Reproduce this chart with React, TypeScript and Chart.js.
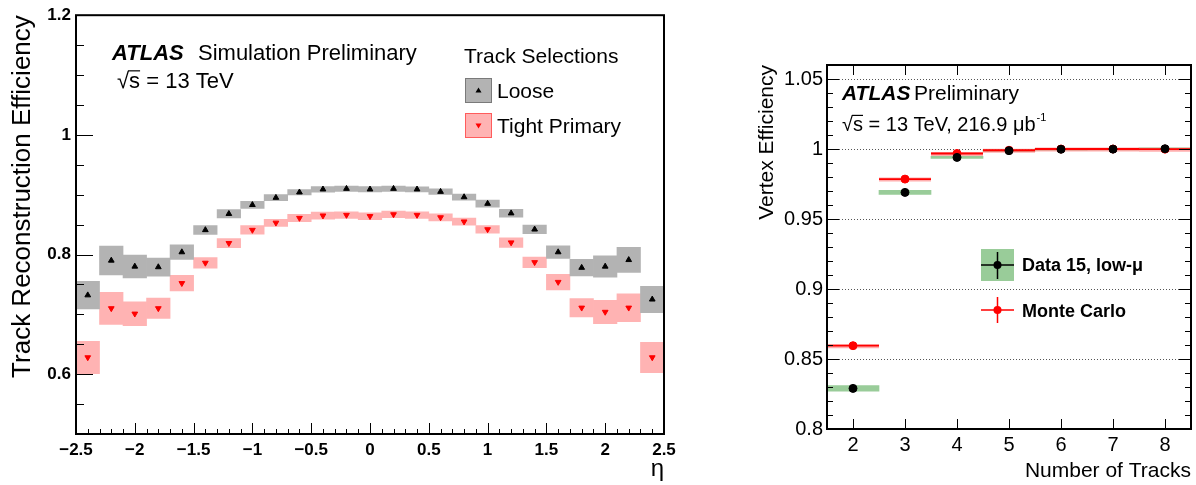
import React, { useEffect, useRef } from "react";
import { Chart, registerables } from "chart.js";

Chart.register(...registerables);

const FONT = "'Liberation Sans', Arial, Helvetica, sans-serif";

// ---------- Left panel: track reconstruction efficiency vs eta ----------
const ETA_BINS = [-2.4, -2.2, -2.0, -1.8, -1.6, -1.4, -1.2, -1.0, -0.8, -0.6, -0.4, -0.2, 0.0, 0.2, 0.4, 0.6, 0.8, 1.0, 1.2, 1.4, 1.6, 1.8, 2.0, 2.2, 2.4];
const LOOSE_EFF = [0.732, 0.790, 0.780, 0.779, 0.804, 0.841, 0.868, 0.883, 0.895, 0.904, 0.909, 0.910, 0.909, 0.910, 0.909, 0.905, 0.896, 0.885, 0.869, 0.842, 0.804, 0.778, 0.780, 0.791, 0.725];
const LOOSE_ERR = [0.023, 0.024, 0.019, 0.015, 0.012, 0.0074, 0.0069, 0.006, 0.0052, 0.0045, 0.0047, 0.0045, 0.0045, 0.0044, 0.0042, 0.0047, 0.005, 0.0058, 0.0066, 0.0072, 0.0105, 0.0138, 0.018, 0.021, 0.022];
const TIGHT_EFF = [0.628, 0.710, 0.701, 0.710, 0.752, 0.786, 0.819, 0.841, 0.853, 0.861, 0.865, 0.866, 0.864, 0.867, 0.866, 0.862, 0.855, 0.842, 0.820, 0.787, 0.754, 0.711, 0.704, 0.711, 0.628];
const TIGHT_ERR = [0.027, 0.027, 0.020, 0.017, 0.013, 0.0088, 0.0075, 0.0072, 0.006, 0.006, 0.0058, 0.0055, 0.0057, 0.0055, 0.0055, 0.0058, 0.006, 0.0063, 0.008, 0.0088, 0.013, 0.0154, 0.0196, 0.0234, 0.0253];
const ETA_TICKS = [-2.5, -2, -1.5, -1, -0.5, 0, 0.5, 1, 1.5, 2, 2.5];
const EFF_TICKS = [0.6, 0.8, 1.0, 1.2];

// ---------- Right panel: vertex efficiency vs number of tracks ----------
const N_TRACKS = [2, 3, 4, 5, 6, 7, 8];
const DATA_EFF = [0.829, 0.969, 0.994, 0.9988, 0.9998, 0.9999, 1.0002];
const DATA_SYST = [0.002, 0.0015, 0.0008, 0.0006, 0.0006, 0.0006, 0.0006];
const MC_EFF = [0.8595, 0.9785, 0.9968, 0.9991, 1.0, 1.0, 0.9999];
const VTX_TICKS = [0.8, 0.85, 0.9, 0.95, 1.0, 1.05];
const TRACK_BIN_HALF = 0.5;

const fmt = (v: number) => String(Math.round(v * 100) / 100).replace("-", "\u2212");

function drawSqrtS(ctx: CanvasRenderingContext2D, x: number, y: number, size: number, rest: string) {
  ctx.font = `${size}px ${FONT}`;
  ctx.fillText("\u221A", x, y);
  const w1 = ctx.measureText("\u221A").width;
  ctx.fillText("s", x + w1, y);
  const w2 = ctx.measureText("s").width;
  ctx.save();
  ctx.lineWidth = 1.2;
  ctx.beginPath();
  ctx.moveTo(x + w1 - 1, y - size * 0.78);
  ctx.lineTo(x + w1 + w2, y - size * 0.78);
  ctx.stroke();
  ctx.restore();
  ctx.fillText(rest, x + w1 + w2, y);
  return x + w1 + w2 + ctx.measureText(rest).width;
}

const leftDecor = {
  id: "leftDecor",
  afterDraw(chart: any) {
    const { ctx, chartArea: a, scales } = chart;
    const x = scales.x;
    const y = scales.y;
    ctx.save();
    ctx.strokeStyle = "#000";
    ctx.fillStyle = "#000";
    ctx.lineWidth = 1;
    for (let i = 0; i <= 14; i++) {
      const v = 0.5 + i * 0.05;
      const major = EFF_TICKS.some((t) => Math.abs(t - v) < 1e-6);
      const p = Math.round(y.getPixelForValue(v)) + 0.5;
      ctx.beginPath();
      ctx.moveTo(a.left, p);
      ctx.lineTo(a.left + (major ? 17 : 8), p);
      ctx.stroke();
    }
    for (let i = 0; i <= 50; i++) {
      const v = -2.5 + i * 0.1;
      const major = i % 5 === 0;
      const p = Math.round(x.getPixelForValue(v)) + 0.5;
      ctx.beginPath();
      ctx.moveTo(p, a.bottom);
      ctx.lineTo(p, a.bottom - (major ? 11 : 5));
      ctx.stroke();
    }
    ctx.lineWidth = 2;
    ctx.strokeRect(a.left, a.top, a.right - a.left, a.bottom - a.top);

    ctx.textBaseline = "alphabetic";
    ctx.textAlign = "left";
    ctx.font = `italic bold 22px ${FONT}`;
    ctx.fillText("ATLAS", 112, 60);
    ctx.font = `22px ${FONT}`;
    ctx.fillText("Simulation Preliminary", 198, 60);
    drawSqrtS(ctx, 117, 88, 22, " = 13 TeV");

    ctx.font = `21px ${FONT}`;
    ctx.fillText("Track Selections", 464, 63);

    const boxes = [
      { y: 78, fill: "#b3b3b3", stroke: "#7a7a7a", mark: "#000", down: false, label: "Loose", base: 98 },
      { y: 113, fill: "#ffb3b3", stroke: "#ff5c5c", mark: "#ff0000", down: true, label: "Tight Primary", base: 133 },
    ];
    for (const b of boxes) {
      ctx.fillStyle = b.fill;
      ctx.fillRect(465, b.y, 27, 25);
      ctx.strokeStyle = b.stroke;
      ctx.lineWidth = 1;
      ctx.strokeRect(465.5, b.y + 0.5, 26, 24);
      const cx = 478.5;
      const cy = b.y + 12.5;
      ctx.fillStyle = b.mark;
      ctx.beginPath();
      if (b.down) {
        ctx.moveTo(cx - 3, cy - 2);
        ctx.lineTo(cx + 3, cy - 2);
        ctx.lineTo(cx, cy + 3);
      } else {
        ctx.moveTo(cx - 3, cy + 2);
        ctx.lineTo(cx + 3, cy + 2);
        ctx.lineTo(cx, cy - 3);
      }
      ctx.closePath();
      ctx.fill();
      ctx.fillStyle = "#000";
      ctx.font = `21px ${FONT}`;
      ctx.fillText(b.label, 497, b.base);
    }
    ctx.restore();
  },
};

const rightDecor = {
  id: "rightDecor",
  beforeDatasetsDraw(chart: any) {
    const { ctx, chartArea: a, scales } = chart;
    const y = scales.y;
    ctx.save();
    ctx.strokeStyle = "#555";
    ctx.lineWidth = 1;
    ctx.setLineDash([1, 2]);
    for (const v of VTX_TICKS) {
      if (v <= 0.8) continue;
      const p = Math.round(y.getPixelForValue(v)) + 0.5;
      ctx.beginPath();
      ctx.moveTo(a.left, p);
      ctx.lineTo(a.right, p);
      ctx.stroke();
    }
    ctx.restore();
  },
  beforeDatasetDraw(chart: any, args: any) {
    if (args.index !== 1) return;
    const { ctx, chartArea: a, scales } = chart;
    const x = scales.x;
    const y = scales.y;
    ctx.save();
    ctx.beginPath();
    ctx.rect(a.left, a.top, a.right - a.left, a.bottom - a.top);
    ctx.clip();
    N_TRACKS.forEach((n, i) => {
      const x1 = x.getPixelForValue(n - TRACK_BIN_HALF);
      const x2 = x.getPixelForValue(n + TRACK_BIN_HALF);
      const p = y.getPixelForValue(MC_EFF[i]);
      ctx.strokeStyle = "rgba(255,120,120,0.6)";
      ctx.lineWidth = 4;
      ctx.beginPath();
      ctx.moveTo(x1, p + 0.5);
      ctx.lineTo(x2, p + 0.5);
      ctx.stroke();
      ctx.strokeStyle = "#ff0000";
      ctx.lineWidth = 1.8;
      ctx.beginPath();
      ctx.moveTo(x1, p);
      ctx.lineTo(x2, p);
      ctx.stroke();
    });
    ctx.restore();
  },
  afterDraw(chart: any) {
    const { ctx, chartArea: a, scales } = chart;
    const x = scales.x;
    const y = scales.y;
    ctx.save();
    ctx.strokeStyle = "#000";
    ctx.fillStyle = "#000";
    ctx.lineWidth = 1;
    for (let i = 0; i <= 26; i++) {
      const v = 0.8 + i * 0.01;
      const major = i % 5 === 0;
      const len = major ? 12 : 6;
      const p = Math.round(y.getPixelForValue(v)) + 0.5;
      ctx.beginPath();
      ctx.moveTo(a.left, p);
      ctx.lineTo(a.left + len, p);
      ctx.moveTo(a.right, p);
      ctx.lineTo(a.right - len, p);
      ctx.stroke();
    }
    for (const n of N_TRACKS) {
      const p = Math.round(x.getPixelForValue(n)) + 0.5;
      ctx.beginPath();
      ctx.moveTo(p, a.bottom);
      ctx.lineTo(p, a.bottom - 10);
      ctx.moveTo(p, a.top);
      ctx.lineTo(p, a.top + 10);
      ctx.stroke();
    }
    ctx.lineWidth = 2;
    ctx.strokeRect(a.left, a.top, a.right - a.left, a.bottom - a.top);

    ctx.textAlign = "left";
    ctx.textBaseline = "alphabetic";
    ctx.font = `italic bold 21px ${FONT}`;
    ctx.fillText("ATLAS", 102, 100);
    ctx.font = `21px ${FONT}`;
    ctx.fillText("Preliminary", 174, 100);
    ctx.font = `20px ${FONT}`;
    const end = drawSqrtS(ctx, 102, 131, 20, " = 13 TeV, 216.9 \u03BCb");
    ctx.font = `11px ${FONT}`;
    ctx.fillText("-1", end + 1, 121);

    ctx.fillStyle = "#99cc99";
    ctx.fillRect(241, 249, 33, 32);
    ctx.strokeStyle = "#000";
    ctx.lineWidth = 1.5;
    ctx.beginPath();
    ctx.moveTo(241, 265);
    ctx.lineTo(274, 265);
    ctx.moveTo(257.5, 252);
    ctx.lineTo(257.5, 279);
    ctx.stroke();
    ctx.fillStyle = "#000";
    ctx.beginPath();
    ctx.arc(257.5, 265, 4, 0, Math.PI * 2);
    ctx.fill();
    ctx.font = `bold 18px ${FONT}`;
    ctx.fillText("Data 15, low-\u03BC", 282, 271);

    ctx.strokeStyle = "#ff0000";
    ctx.beginPath();
    ctx.moveTo(241, 310);
    ctx.lineTo(274, 310);
    ctx.moveTo(257.5, 297);
    ctx.lineTo(257.5, 323);
    ctx.stroke();
    ctx.fillStyle = "#ff0000";
    ctx.beginPath();
    ctx.arc(257.5, 310, 4, 0, Math.PI * 2);
    ctx.fill();
    ctx.fillStyle = "#000";
    ctx.fillText("Monte Carlo", 282, 317);
    ctx.restore();
  },
};

export default function App() {
  const leftRef = useRef<HTMLCanvasElement>(null);
  const rightRef = useRef<HTMLCanvasElement>(null);

  useEffect(() => {
    const left = new Chart(leftRef.current as HTMLCanvasElement, {
      type: "bar",
      data: {
        datasets: [
          {
            type: "scatter",
            label: "Loose",
            data: ETA_BINS.map((x, i) => ({ x, y: LOOSE_EFF[i] })),
            pointStyle: "triangle",
            pointRadius: 3.3,
            backgroundColor: "#000",
            borderColor: "#000",
            borderWidth: 1,
            order: 1,
          },
          {
            type: "scatter",
            label: "Tight Primary",
            data: ETA_BINS.map((x, i) => ({ x, y: TIGHT_EFF[i] })),
            pointStyle: "triangle",
            pointRotation: 180,
            pointRadius: 3.3,
            backgroundColor: "#ff0000",
            borderColor: "#ff0000",
            borderWidth: 1,
            order: 2,
          },
          {
            type: "bar",
            label: "Loose unc.",
            data: ETA_BINS.map((x, i) => ({ x, y: [LOOSE_EFF[i] - LOOSE_ERR[i], LOOSE_EFF[i] + LOOSE_ERR[i]] })),
            backgroundColor: "#b3b3b3",
            borderWidth: 0,
            grouped: false,
            barPercentage: 1,
            categoryPercentage: 1,
            order: 3,
          },
          {
            type: "bar",
            label: "Tight unc.",
            data: ETA_BINS.map((x, i) => ({ x, y: [TIGHT_EFF[i] - TIGHT_ERR[i], TIGHT_EFF[i] + TIGHT_ERR[i]] })),
            backgroundColor: "#ffb3b3",
            borderWidth: 0,
            grouped: false,
            barPercentage: 1,
            categoryPercentage: 1,
            order: 4,
          },
        ] as any,
      },
      options: {
        animation: false,
        responsive: false,
        events: [],
        layout: { padding: { left: 0, right: 36, top: 11, bottom: 0 } },
        plugins: { legend: { display: false }, tooltip: { enabled: false } },
        scales: {
          x: {
            type: "linear",
            min: -2.5,
            max: 2.5,
            offset: false,
            grid: { display: false, drawTicks: false },
            border: { display: false },
            afterBuildTicks: (s: any) => {
              s.ticks = ETA_TICKS.map((v) => ({ value: v }));
            },
            afterFit: (s: any) => {
              s.height = 51;
            },
            ticks: {
              autoSkip: false,
              maxRotation: 0,
              padding: 6,
              color: "#000",
              font: { family: FONT, size: 17, weight: "bold" },
              callback: (v: any) => fmt(Number(v)),
            },
            title: {
              display: true,
              text: "\u03B7",
              align: "end",
              color: "#000",
              font: { family: FONT, size: 24 },
              padding: { top: 0, bottom: 1 },
            },
          },
          y: {
            type: "linear",
            min: 0.5,
            max: 1.2,
            grid: { display: false, drawTicks: false },
            border: { display: false },
            afterBuildTicks: (s: any) => {
              s.ticks = EFF_TICKS.map((v) => ({ value: v }));
            },
            afterFit: (s: any) => {
              s.width = 76;
            },
            ticks: {
              padding: 5,
              color: "#000",
              font: { family: FONT, size: 17, weight: "bold" },
              callback: (v: any) => fmt(Number(v)),
            },
            title: {
              display: true,
              text: "Track Reconstruction Efficiency",
              align: "end",
              color: "#000",
              font: { family: FONT, size: 26 },
              padding: { top: 7, bottom: 0 },
            },
          },
        },
      } as any,
      plugins: [leftDecor],
    });

    const right = new Chart(rightRef.current as HTMLCanvasElement, {
      type: "bar",
      data: {
        datasets: [
          {
            type: "scatter",
            label: "Data 15, low-\u03BC",
            data: N_TRACKS.map((x, i) => ({ x, y: DATA_EFF[i] })),
            pointRadius: 4,
            backgroundColor: "#000",
            borderColor: "#000",
            borderWidth: 1,
            order: 1,
          },
          {
            type: "scatter",
            label: "Monte Carlo",
            data: N_TRACKS.map((x, i) => ({ x, y: MC_EFF[i] })),
            pointRadius: 4,
            backgroundColor: "#ff0000",
            borderColor: "#ff0000",
            borderWidth: 1,
            order: 2,
          },
          {
            type: "bar",
            label: "Data syst.",
            data: N_TRACKS.map((x, i) => ({ x, y: [DATA_EFF[i] - DATA_SYST[i], DATA_EFF[i] + DATA_SYST[i]] })),
            backgroundColor: "#99cc99",
            borderWidth: 0,
            grouped: false,
            barPercentage: 1,
            categoryPercentage: 1,
            order: 3,
          },
        ] as any,
      },
      options: {
        animation: false,
        responsive: false,
        events: [],
        layout: { padding: { left: 0, right: 4, top: 65, bottom: 0 } },
        plugins: { legend: { display: false }, tooltip: { enabled: false } },
        scales: {
          x: {
            type: "linear",
            min: 1.5,
            max: 8.5,
            offset: false,
            grid: { display: false, drawTicks: false },
            border: { display: false },
            afterBuildTicks: (s: any) => {
              s.ticks = N_TRACKS.map((v) => ({ value: v }));
            },
            afterFit: (s: any) => {
              s.height = 56;
            },
            ticks: {
              autoSkip: false,
              maxRotation: 0,
              padding: 4,
              color: "#000",
              font: { family: FONT, size: 20 },
              callback: (v: any) => String(v),
            },
            title: {
              display: true,
              text: "Number of Tracks",
              align: "end",
              color: "#000",
              font: { family: FONT, size: 21 },
              padding: { top: 0, bottom: 1 },
            },
          },
          y: {
            type: "linear",
            min: 0.8,
            max: 1.06,
            grid: { display: false, drawTicks: false },
            border: { display: false },
            afterBuildTicks: (s: any) => {
              s.ticks = VTX_TICKS.map((v) => ({ value: v }));
            },
            afterFit: (s: any) => {
              s.width = 87;
            },
            ticks: {
              padding: 4,
              color: "#000",
              font: { family: FONT, size: 20 },
              callback: (v: any) => fmt(Number(v)),
            },
            title: {
              display: true,
              text: "Vertex Efficiency",
              align: "end",
              color: "#000",
              font: { family: FONT, size: 21 },
              padding: { top: 15, bottom: 0 },
            },
          },
        },
      } as any,
      plugins: [rightDecor],
    });

    return () => {
      left.destroy();
      right.destroy();
    };
  }, []);

  return (
    <div style={{ position: "fixed", left: 0, top: 0, width: 1196, height: 485, background: "#fff" }}>
      <canvas ref={leftRef} width={700} height={485} style={{ position: "absolute", left: 0, top: 0, width: 700, height: 485 }} />
      <canvas ref={rightRef} width={456} height={485} style={{ position: "absolute", left: 740, top: 0, width: 456, height: 485 }} />
    </div>
  );
}
